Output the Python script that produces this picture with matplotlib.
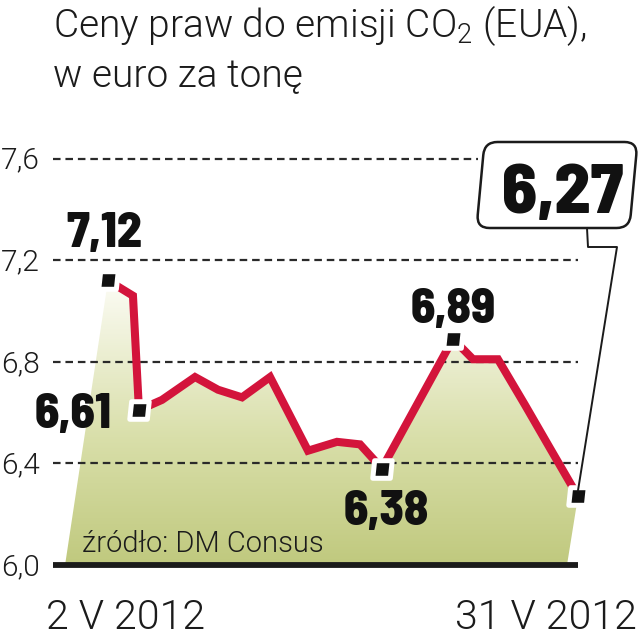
import matplotlib
matplotlib.use('Agg')
import matplotlib.pyplot as plt
import matplotlib.transforms as mtransforms
import numpy as np
from matplotlib.patches import Polygon, FancyBboxPatch
from matplotlib.path import Path
from matplotlib.colors import LinearSegmentedColormap

# dzien maja 2012 i cena EUA w euro za tone
dni = [2.0, 3.54, 3.91, 5.33, 7.37, 8.79, 10.27, 12.0, 14.34, 16.13, 17.55, 18.9,
       23.29, 24.52, 26.06, 27.73, 29.27, 31.0]
ceny = [7.12, 7.06, 6.61, 6.65, 6.74, 6.69, 6.66, 6.74, 6.45, 6.485, 6.475, 6.38,
        6.89, 6.81, 6.81, 6.63, 6.46, 6.27]
opisane = [0, 2, 11, 12, 17]          # punkty z markerem
etykiety = ['7,12', '6,61', '6,38', '6,89']
ostatnia = '6,27'
yticks = [6.0, 6.4, 6.8, 7.2, 7.6]
ytick_labels = ['6,0', '6,4', '6,8', '7,2', '7,6']
x_labels = ['2 V 2012', '31 V 2012']
tytul = ['Ceny praw do emisji CO$_2$ (EUA),', 'w euro za tonę']
zrodlo = 'źródło: DM Consus'

RED = '#d3143b'
INK = '#1b1b1b'
plt.rcParams['mathtext.fontset'] = 'custom'
plt.rcParams['mathtext.rm'] = 'Roboto:light'
plt.rcParams['mathtext.default'] = 'regular'
LIGHT = dict(family=['Roboto', 'DejaVu Sans'], weight=300, color=INK)
BOLD = dict(family=['Barlow Semi Condensed', 'Roboto Condensed', 'DejaVu Sans'], weight=800, color='#111111')

W, H = 643, 640
fig = plt.figure(figsize=(W / 100, H / 100), dpi=100)
ax = fig.add_axes([0, 0, 1, 1])

# pixel coords, origin top-left
pix = mtransforms.Affine2D().scale(1 / W, -1 / H).translate(0, 1) + fig.transFigure

# gradient area under the line
poly = Polygon([(-0.65, 6.0)] + list(zip(dni, ceny)) + [(30.32, 6.0)],
               closed=True, transform=ax.transData)
cmap = LinearSegmentedColormap.from_list('g', [(0, '#c0c97e'), (0.45, '#d9dfaa'), (1, '#fcfcf5')])
grad = np.linspace(0, 1, 256).reshape(-1, 1)
im = ax.imshow(grad, extent=[-1, 31, 6.0, 7.12], origin='lower', aspect='auto',
               cmap=cmap, zorder=1)
im.set_clip_path(poly)
ax.set_xlim(-4.664, 35.01)
ax.set_ylim(5.705, 8.224)
ax.axis('off')

# grid
for v in yticks[1:]:
    x_end = 24.83 if v == 7.6 else 31.0
    ax.plot([-1.39, x_end], [v, v], color='#2a2a2a', lw=1.6,
            linestyle=(0, (3.4, 2.2)), zorder=2)
ax.plot([-1.39, 31.0], [6.0, 6.0], color=INK, lw=4.2, solid_capstyle='butt', zorder=3)

yt = mtransforms.offset_copy(ax.get_yaxis_transform(), fig=fig, x=0, y=-10, units='dots')
for v, lab in zip(yticks, ytick_labels):
    ax.text(1 / W, v, lab, transform=yt, ha='left', va='baseline', fontsize=21.5, **LIGHT)

# line + markers
ax.plot(dni, ceny, color=RED, lw=5.8, solid_joinstyle='miter', solid_capstyle='butt', zorder=4)
mk = Path([(-0.52, -0.47), (0.42, -0.47), (0.52, 0.47), (-0.42, 0.47), (-0.52, -0.47)],
          [Path.MOVETO, Path.LINETO, Path.LINETO, Path.LINETO, Path.CLOSEPOLY])
ax.plot([dni[i] for i in opisane], [ceny[i] for i in opisane], ls='none', marker=mk,
        ms=14, mfc='#111111', mec='white', mew=3.6, zorder=5)

# value labels
offs = [(-4, 33), (-66, -18), (4, -56), (0, 16)]
for i, lab, (dx, dy) in zip(opisane, etykiety, offs):
    ax.annotate(lab, (dni[i], ceny[i]), xytext=(dx, dy), textcoords='offset pixels',
                ha='center', va='baseline', fontsize=35.5, zorder=6, **BOLD)

# callout with the last value
box = FancyBboxPatch((480.5, 142), 153, 86, boxstyle='round,pad=0,rounding_size=13',
                     transform=mtransforms.Affine2D().translate(-557, -185).skew_deg(-5.3, 0)
                     .translate(557, 185) + pix,
                     fc='white', ec=INK, lw=1.8, zorder=6)
ax.add_patch(box)
ex, ey = ax.transData.transform((dni[-1], ceny[-1]))
ax.plot([587, 588, 617, ex], [228, 247, 247, H - ey - 6], transform=pix,
        color=INK, lw=1.4, zorder=6)
ax.text(563, 213, ostatnia, transform=pix, ha='center', va='baseline', fontsize=51, zorder=7, **BOLD)

# texts
fig.text(53 / W, 1 - 37 / H, tytul[0], ha='left', va='baseline', fontsize=28, **LIGHT)
fig.text(53 / W, 1 - 87 / H, tytul[1], ha='left', va='baseline', fontsize=28, **LIGHT)
fig.text(82 / W, 1 - 552 / H, zrodlo, ha='left', va='baseline', fontsize=21, **LIGHT)
fig.text(46 / W, 1 - 629 / H, x_labels[0], ha='left', va='baseline', fontsize=29.5, **LIGHT)
fig.text(637 / W, 1 - 629 / H, x_labels[1], ha='right', va='baseline', fontsize=29.5, **LIGHT)

fig.savefig('out.png', dpi=100)
